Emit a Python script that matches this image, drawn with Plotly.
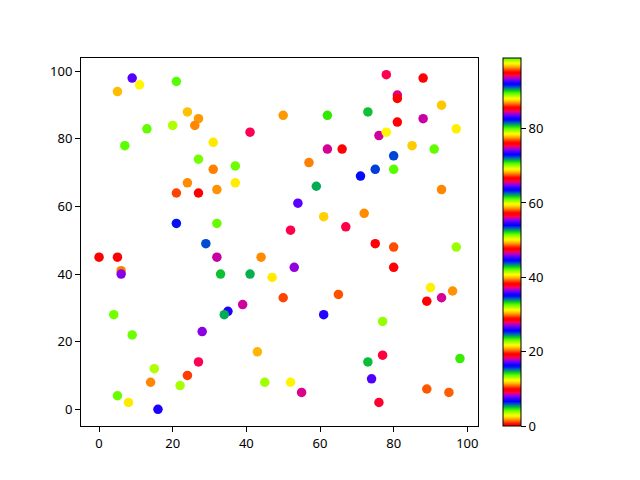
import numpy as np
import plotly.graph_objects as go

x_vals = [0, 5, 6, 6, 4, 9, 5, 8, 14, 15, 16, 22, 24, 27, 28, 29, 32, 33, 35, 34,
          39, 41, 44, 47, 43, 45, 50, 52, 67, 75, 80, 97, 53, 80, 65, 90, 93, 96, 89, 61,
          77, 77, 73, 98, 74, 52, 55, 76, 89, 95, 9, 11, 5, 21, 24, 27, 26, 13, 20, 7,
          41, 31, 27, 31, 37, 24, 37, 21, 27, 32, 21, 32, 78, 88, 81, 81, 93, 50, 62, 73,
          81, 88, 97, 76, 78, 62, 66, 85, 91, 80, 75, 80, 71, 57, 59, 93, 54, 61, 72]
y_vals = [45, 45, 41, 40, 28, 22, 4, 2, 8, 12, 0, 7, 10, 14, 23, 49, 45, 40, 29, 28,
          31, 40, 45, 39, 17, 8, 33, 53, 54, 49, 48, 48, 42, 42, 34, 36, 33, 35, 32, 28,
          26, 16, 14, 15, 9, 8, 5, 2, 6, 5, 98, 96, 94, 97, 88, 86, 84, 83, 84, 78,
          82, 79, 74, 71, 72, 67, 67, 64, 64, 65, 55, 55, 99, 98, 93, 92, 90, 87, 87, 88,
          85, 86, 83, 81, 82, 77, 77, 78, 77, 75, 71, 71, 69, 73, 66, 65, 61, 57, 58]
c_vals = [0, 19, 11, 8, 4, 23, 42, 12, 30, 13, 7, 32, 1, 9, 27, 6, 18, 5, 26, 81,
          37, 62, 49, 31, 2, 51, 20, 28, 47, 57, 39, 70, 46, 38, 58, 50, 56, 68, 76, 45,
          89, 66, 24, 14, 17, 69, 75, 85, 77, 96, 36, 88, 21, 99, 40, 87, 30, 61, 13, 80,
          9, 12, 4, 11, 23, 49, 31, 20, 95, 68, 16, 42, 28, 19, 94, 38, 59, 87, 33, 5,
          57, 18, 50, 37, 88, 56, 76, 78, 61, 25, 44, 80, 35, 11, 81, 30, 55, 97, 49]
cbar_ticks = [0, 20, 40, 60, 80]
axis_ticks = [0, 20, 40, 60, 80, 100]

# matplotlib 'prism' colormap
def prism(t):
    r = np.clip(0.75 * np.sin((t * 20.9 + 0.25) * np.pi) + 0.67, 0, 1)
    g = np.clip(0.75 * np.sin((t * 20.9 - 0.25) * np.pi) + 0.33, 0, 1)
    b = np.clip(-1.1 * np.sin((t * 20.9) * np.pi), 0, 1)
    return r, g, b

N = 256
colorscale = []
for i in range(N):
    t = i / (N - 1)
    r, g, b = prism(t)
    colorscale.append([t, f"rgb({int(round(r*255))},{int(round(g*255))},{int(round(b*255))})"])

font = dict(family="Noto Sans, DejaVu Sans, sans-serif", size=13, color="black")

# plot area in the target: x 81..477, y 58..427 (page has an 8px body margin)
L, T = 73, 50
W, H = 396.6, 368.4
fig = go.Figure(go.Scatter(
    x=x_vals, y=y_vals, mode="markers",
    marker=dict(
        size=9.5, color=c_vals, colorscale=colorscale, line=dict(width=0),
        showscale=True,
        colorbar=dict(
            x=(502.3 - 81) / W, xanchor="left", y=0.5, yanchor="middle",
            xpad=0, ypad=0,
            len=1.0, lenmode="fraction", thickness=18, thicknessmode="pixels",
            outlinewidth=1, outlinecolor="black",
            tickvals=cbar_ticks, ticks="outside", ticklen=5, tickwidth=1,
            tickcolor="black", tickfont=font,
        ),
    ),
))

axis_common = dict(
    showgrid=False, zeroline=False, showline=True, mirror=True,
    linecolor="black", linewidth=1, ticks="outside", ticklen=5, tickwidth=1,
    tickcolor="black", tickfont=font, tickvals=axis_ticks,
)
fig.update_xaxes(range=[-4.9, 102.9], **axis_common)
fig.update_yaxes(range=[-4.95, 103.95], **axis_common)

fig.update_layout(
    width=640, height=480,
    margin=dict(l=L, r=640 - L - W, t=T, b=480 - T - H),
    paper_bgcolor="white", plot_bgcolor="white",
    showlegend=False, font=font,
)

fig.write_html("out.html", config={"displayModeBar": False})
